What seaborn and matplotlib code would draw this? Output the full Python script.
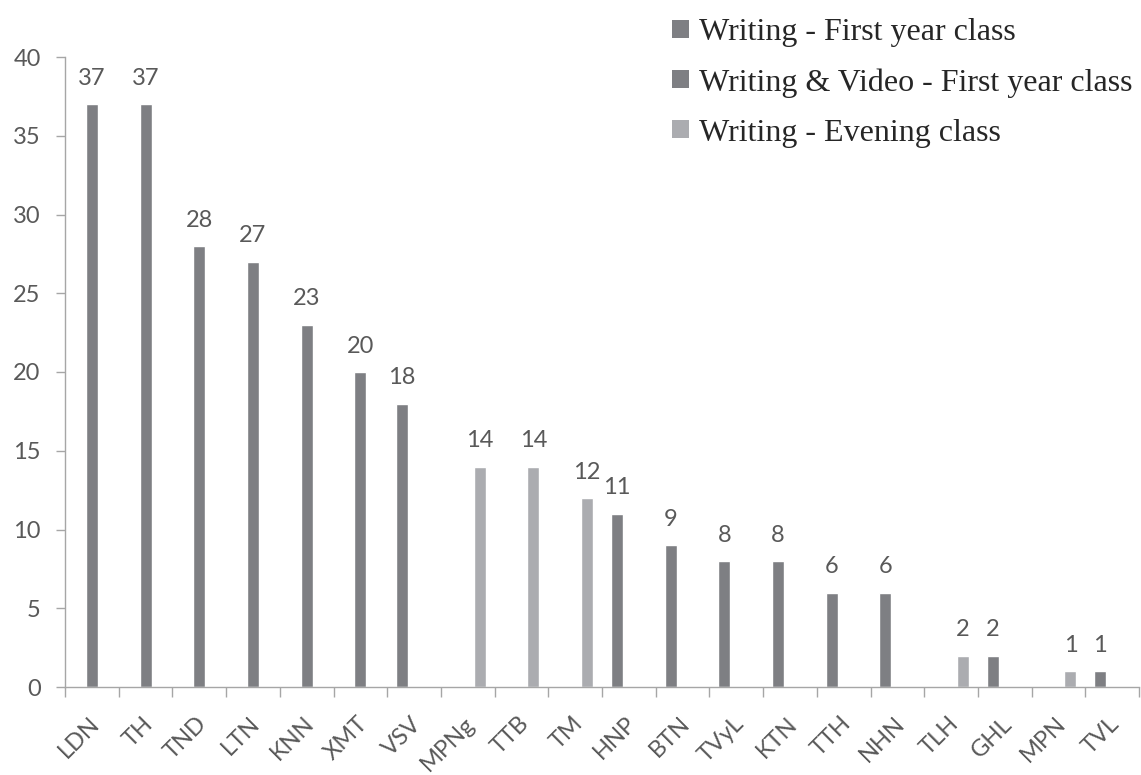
import matplotlib
matplotlib.use("Agg")

import matplotlib.pyplot as plt
import matplotlib.transforms as mtransforms
import pandas as pd
import seaborn as sns
from matplotlib.patches import Patch
from matplotlib.ticker import FixedLocator, MultipleLocator

CATEGORIES = [
    "LDN", "TH", "TND", "LTN", "KNN", "XMT", "VSV", "MPNg", "TTB", "TM",
    "HNP", "BTN", "TVyL", "KTN", "TTH", "NHN", "TLH", "GHL", "MPN", "TVL",
]

WRITING_FIRST = [None, None, None, None, None, None, 18, None, None, None,
                 11, 9, 8, 8, 6, 6, None, 2, None, 1]
WRITING_VIDEO = [37, 37, 28, 27, 23, 20, None, None, None, None,
                 None, None, None, None, None, None, None, None, None, None]
WRITING_EVENING = [None, None, None, None, None, None, None, 14, 14, 12,
                   None, None, None, None, None, None, 2, None, 1, None]

SERIES_NAMES = [
    "Writing - First year class",
    "Writing & Video - First year class",
    "Writing - Evening class",
]
SERIES_COLORS = ["#7e7f83", "#7e7f83", "#abacb0"]

TEXT_GRAY = "#595959"
AXIS_GRAY = "#a6a6a6"


def build_frame():
    """Long-form table, skipping the empty category/series combos."""
    rows = []
    for name, values in zip(SERIES_NAMES, [WRITING_FIRST, WRITING_VIDEO, WRITING_EVENING]):
        for cat, val in zip(CATEGORIES, values):
            if val is not None:
                rows.append({"category": cat, "series": name, "count": val})
    return pd.DataFrame(rows)


def main():
    sns.set_style("white")
    plt.rcParams["font.family"] = ["Lato", "DejaVu Sans"]

    df = build_frame()

    fig = plt.figure(figsize=(11.41, 7.75), dpi=100)
    ax = fig.add_axes([65 / 1141, 88 / 775, 1074 / 1141, 630 / 775])

    # dodge=True keeps the three slots per category even though
    # each category only has one series
    sns.barplot(
        data=df,
        x="category",
        y="count",
        hue="series",
        order=CATEGORIES,
        hue_order=SERIES_NAMES,
        palette=SERIES_COLORS,
        dodge=True,
        width=0.672,
        saturation=1,
        legend=False,
        ax=ax,
    )

    for container in ax.containers:
        ax.bar_label(container, fmt="{:.0f}", padding=11,
                     fontsize=17, color=TEXT_GRAY)

    ax.set_xlim(-0.5, len(CATEGORIES) - 0.5)
    ax.set_ylim(0, 40)
    ax.yaxis.set_major_locator(MultipleLocator(5))
    ax.set_xlabel("")
    ax.set_ylabel("")

    # category boundaries get the tick marks, labels sit in the middle
    ax.xaxis.set_minor_locator(FixedLocator([i - 0.5 for i in range(len(CATEGORIES) + 1)]))
    ax.tick_params(axis="x", which="major", length=0, pad=24,
                   labelsize=17, labelcolor=TEXT_GRAY)
    ax.tick_params(axis="x", which="minor", length=7.5, width=1, color=AXIS_GRAY,
                   direction="out", bottom=True)
    ax.tick_params(axis="y", length=6.5, width=1, color=AXIS_GRAY, pad=11,
                   labelsize=17, labelcolor=TEXT_GRAY, left=True)
    shift = mtransforms.ScaledTranslation(4 / 100, 0, fig.dpi_scale_trans)
    for label in ax.get_xticklabels():
        label.set_rotation(45)
        label.set_ha("right")
        label.set_va("center")
        label.set_rotation_mode("anchor")
        label.set_transform(label.get_transform() + shift)

    for side in ["top", "right"]:
        ax.spines[side].set_visible(False)
    for side in ["left", "bottom"]:
        ax.spines[side].set_color(AXIS_GRAY)
        ax.spines[side].set_linewidth(1.0)

    handles = [Patch(facecolor=c, edgecolor="none") for c in SERIES_COLORS]
    fig.legend(
        handles,
        SERIES_NAMES,
        loc="upper left",
        bbox_to_anchor=(672 / 1141, 1 - 18 / 775),
        bbox_transform=fig.transFigure,
        frameon=False,
        borderpad=0,
        borderaxespad=0,
        handlelength=0.53,
        handleheight=0.5,
        handletextpad=0.3,
        labelspacing=0.66,
        prop={"family": "Liberation Serif", "size": 23},
        labelcolor="#262626",
    )

    fig.savefig("out.png", dpi=100)
    plt.close(fig)


if __name__ == "__main__":
    main()
